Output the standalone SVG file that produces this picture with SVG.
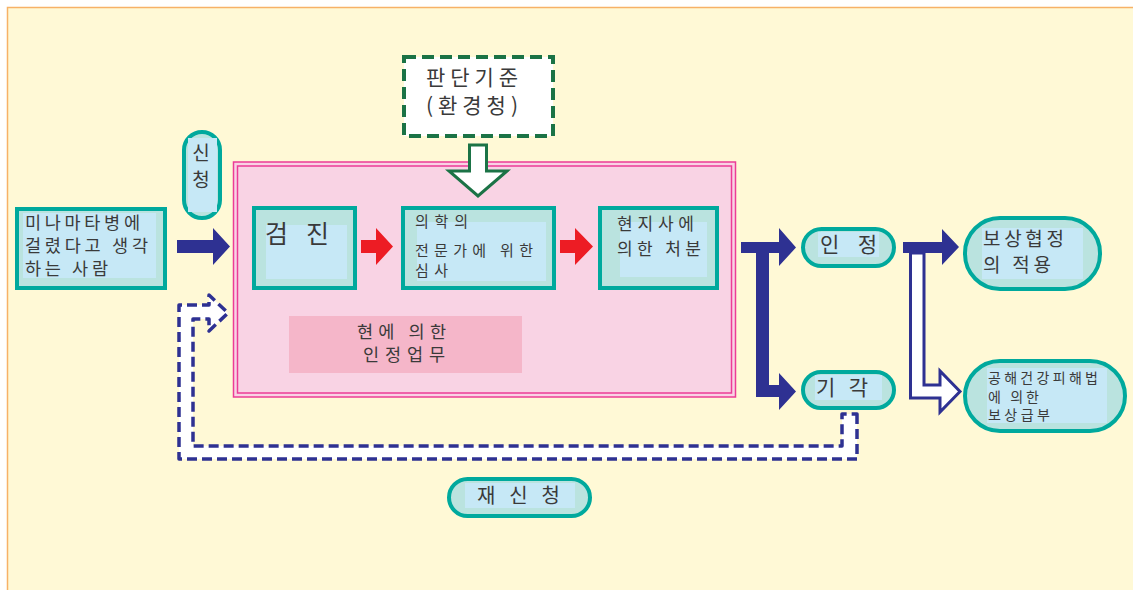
<svg xmlns="http://www.w3.org/2000/svg" width="1133" height="590" viewBox="0 0 1133 590">
<style>
text{font-family:"Noto Sans CJK KR","Noto Sans",sans-serif;fill:#3a3a3a;}
.box{fill:#BAE3DF;stroke:#00A99D;stroke-width:4;}
.inner{fill:#C6E8F6;}
.blue{fill:#2E3192;}
.red{fill:#ED1C24;}
</style>
<rect x="0" y="0" width="1133" height="590" fill="#ffffff"/>
<rect x="7.5" y="7.5" width="1130" height="590" fill="#FFF9D6" stroke="#F7B267" stroke-width="1.5"/>

<g id="pink-area">
<rect x="233.5" y="162" width="502" height="235" fill="#F9D3E4" stroke="#EC3C96" stroke-width="1.5"/>
<rect x="237.5" y="166" width="494" height="227" fill="none" stroke="#EC3C96" stroke-width="1.5"/>
<rect x="289" y="316" width="233" height="57" fill="#F5B6C9"/>
<text font-size="17.5" x="357" y="337.5" textLength="89" lengthAdjust="spacing">현에 의한</text>
<text font-size="17.5" x="363" y="361" textLength="82" lengthAdjust="spacing">인정업무</text>
</g>

<g id="connectors">
<polygon class="blue" points="177,240 213,240 213,228 230,246.5 213,265 213,253 177,253"/>
<polygon class="red" points="361,240 376,240 376,228 393,246.5 376,265 376,253 361,253"/>
<polygon class="red" points="560,240 575,240 575,228 593,246.5 575,265 575,253 560,253"/>
<polygon points="469.5,145 486.5,145 486.5,171 507,171 478,196 449,171 469.5,171" fill="#ffffff" stroke="#1B7346" stroke-width="3"/>
<polygon class="blue" points="741,242 779,242 779,228 796,247.5 779,266 779,253 769,253 769,385 779,385 779,373 796,391.5 779,410 779,397 756,397 756,253 741,253"/>
<polygon points="910.5,253 910.5,398 940,398 940,412 960,391.5 940,371 940,385 924,385 924,253" fill="#ffffff" stroke="#2E3192" stroke-width="3"/>
<polygon class="blue" points="903,242 942,242 942,229 959,247 942,265 942,253 903,253"/>
<path d="M857,414 L857,459 L179,459 L179,305 L209,305 L209,295 L228,313 L209,331 L209,319 L193,319 L193,446 L842,446 L842,414 Z" fill="#ffffff" stroke="#2E3192" stroke-width="3.5" stroke-dasharray="10 5" stroke-linejoin="round"/>
</g>

<g id="node-person">
<rect class="box" x="17" y="209" width="148" height="79"/>
<rect class="inner" x="23" y="213" width="133" height="65"/>
<text font-size="17.5" x="25" y="228.5" textLength="115" lengthAdjust="spacing">미나마타병에</text>
<text font-size="17.5" x="25" y="251.5" textLength="123" lengthAdjust="spacing">걸렸다고 생각</text>
<text font-size="17.5" x="25" y="274.5" textLength="83" lengthAdjust="spacing">하는 사람</text>
</g>

<g id="node-apply">
<rect class="box" x="184" y="132" width="36" height="86" rx="18"/>
<rect class="inner" x="188" y="138" width="29" height="74"/>
<text font-size="19" x="201" y="160" text-anchor="middle">신</text>
<text font-size="19" x="201" y="187" text-anchor="middle">청</text>
</g>

<g id="node-criteria">
<rect x="404" y="57" width="149" height="79" fill="#ffffff" stroke="#1B7346" stroke-width="4" stroke-dasharray="12 6"/>
<text font-size="21" x="426" y="84.5" textLength="92" lengthAdjust="spacing">판단기준</text>
<text font-size="21" x="426" y="112.5" textLength="92" lengthAdjust="spacing">(환경청)</text>
</g>

<g id="node-exam">
<rect class="box" x="254" y="208" width="101" height="80"/>
<rect class="inner" x="266" y="225" width="81" height="54"/>
<text font-size="25" x="265" y="242.5" textLength="64" lengthAdjust="spacing">검 진</text>
</g>

<g id="node-review">
<rect class="box" x="403" y="208" width="151" height="80"/>
<rect class="inner" x="417" y="222" width="129" height="59"/>
<text font-size="15" x="415" y="227" textLength="53" lengthAdjust="spacing">의학의</text>
<text font-size="15" x="415" y="255.5" textLength="118" lengthAdjust="spacing">전문가에 위한</text>
<text font-size="15" x="415" y="276" textLength="33" lengthAdjust="spacing">심사</text>
</g>

<g id="node-disposal">
<rect class="box" x="600" y="208" width="117" height="80"/>
<rect class="inner" x="620" y="222" width="87" height="55"/>
<text font-size="17" x="617" y="230" textLength="77" lengthAdjust="spacing">현지사에</text>
<text font-size="17" x="617" y="255" textLength="84" lengthAdjust="spacing">의한 처분</text>
</g>

<g id="node-approve">
<rect class="box" x="803" y="229" width="91" height="37" rx="18.5"/>
<rect class="inner" x="818" y="232" width="61" height="25"/>
<text font-size="21" x="820" y="251.5" textLength="57" lengthAdjust="spacing">인 정</text>
</g>

<g id="node-reject">
<rect class="box" x="803" y="372" width="91" height="36" rx="18"/>
<rect class="inner" x="815" y="375" width="67" height="25"/>
<text font-size="21" x="816" y="394.5" textLength="52" lengthAdjust="spacing">기 각</text>
</g>

<g id="node-agreement">
<rect class="box" x="965" y="218" width="135" height="71" rx="35"/>
<rect class="inner" x="982" y="228" width="101" height="51"/>
<text font-size="19" x="983" y="246" textLength="81" lengthAdjust="spacing">보상협정</text>
<text font-size="19" x="983" y="272" textLength="68" lengthAdjust="spacing">의 적용</text>
</g>

<g id="node-law">
<rect class="box" x="965" y="361" width="160" height="70" rx="35"/>
<rect class="inner" x="987" y="368" width="120" height="55"/>
<text font-size="14" x="988" y="383" textLength="110" lengthAdjust="spacing">공해건강피해법</text>
<text font-size="14" x="988" y="401.5" textLength="51" lengthAdjust="spacing">에 의한</text>
<text font-size="14" x="988" y="420" textLength="62" lengthAdjust="spacing">보상급부</text>
</g>

<g id="node-reapply">
<rect class="box" x="449" y="479" width="141" height="37" rx="18.5"/>
<rect class="inner" x="465" y="483" width="110" height="25"/>
<text font-size="20" x="477" y="503" textLength="83" lengthAdjust="spacing">재 신 청</text>
</g>
</svg>
